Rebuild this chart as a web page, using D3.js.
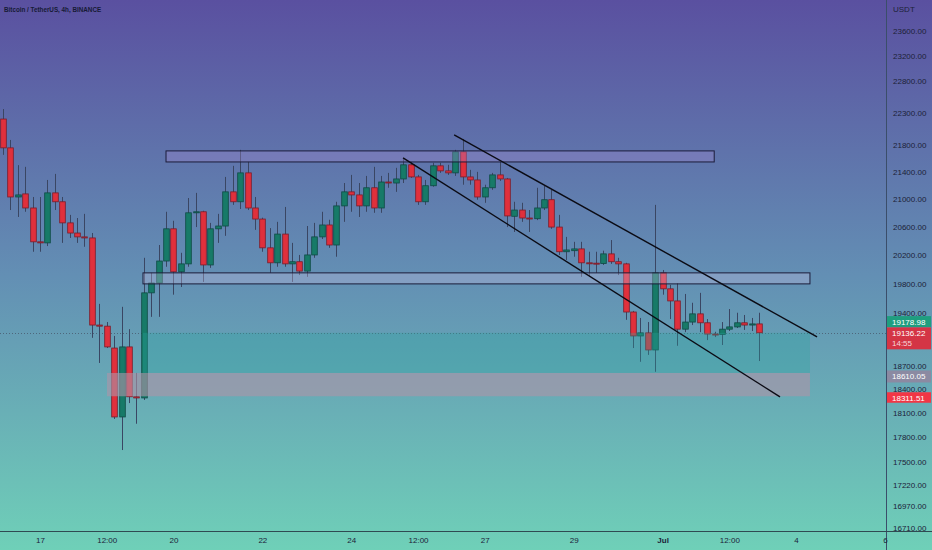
<!DOCTYPE html>
<html><head><meta charset="utf-8">
<script src="https://cdn.jsdelivr.net/npm/d3@7/dist/d3.min.js"></script>
<style>body{margin:0;overflow:hidden;background:#5f70a8}svg{display:block}</style>
</head><body><svg id="c" width="932" height="550"></svg>
<script>
// ---- data (4h candles, first candle 2022-06-16 04:00 UTC) ----
const firstCandle = "2022-06-16T04:00:00Z";
const stepHours = 4;
const open = [
22200,21760,21030,21075,20870,20385,20370,21090,20960,20655,
20510,20455,20440,19240,19225,18935,18050,18950,18305,18290,
19675,19810,20115,20570,19965,20075,20800,20815,20060,20570,
20610,21105,20960,21385,20870,20710,20300,20090,20495,20075,
20105,19975,20200,20455,20625,20340,20900,21105,21060,20900,
21165,20870,21250,21235,21295,21505,21325,20960,21195,21490,
21415,21385,21700,21325,21280,21030,21165,21355,21295,20750,
20840,20725,20715,20870,20990,20595,20245,20260,20285,20090,
20085,20080,20215,20105,20075,19415,19095,19135,18910,19950,
19730,19565,19185,19280,19390,19270,19120,19115,19185,19215,
19270,19240,19255];
const high = [
22355,21880,21500,21475,21030,21030,21280,21370,21030,20770,
20725,20785,20510,19525,19280,19095,19485,19185,18610,20160,
19950,20340,20815,20685,20230,21015,21090,20830,20655,20785,
21325,21490,21730,21550,21030,20730,20580,20670,20885,20370,
20200,20610,20655,20815,20700,20960,21235,21355,21235,21340,
21475,21340,21385,21460,21595,21550,21355,21280,21535,21535,
21505,21730,21895,21430,21400,21210,21385,21550,21310,20960,
20945,20840,21165,21195,21135,20770,20455,20385,20385,20245,
20245,20260,20410,20160,20090,19430,19335,19280,20915,19990,
19785,19810,19660,19540,19675,19320,19150,19280,19455,19405,
19375,19335,19405];
const low = [
21655,20840,20740,20815,20245,20245,20325,20840,20370,20440,
20370,20315,19070,18740,18935,18025,17640,18225,17965,18265,
19350,19350,20035,19650,19755,20035,20595,19825,20020,20370,
20470,20915,20855,20840,20555,20245,19950,20035,20035,19825,
19920,19895,20160,20425,20300,20175,20670,20815,20740,20815,
20800,20800,21165,21105,21235,21310,20915,20915,21180,21385,
21355,21340,21210,21210,20990,20945,21135,21265,20595,20525,
20670,20525,20695,20840,20570,20200,20130,20175,19895,19895,
19950,20060,20075,19920,19310,18935,18755,18845,18625,19650,
19320,18965,19145,19240,19145,19040,19080,18975,19160,19200,
19175,19160,18765];
const close = [
21760,21030,21060,20870,20385,20370,21090,20960,20655,20510,
20455,20440,19240,19225,18950,18050,18950,18305,18290,19675,
19810,20115,20570,19965,20075,20800,20815,20060,20570,20610,
21105,20960,21385,20870,20710,20300,20090,20495,20075,20105,
19975,20200,20455,20625,20340,20900,21105,21060,20900,21165,
20870,21250,21235,21295,21505,21325,20960,21195,21490,21415,
21385,21700,21325,21280,21030,21165,21355,21295,20755,20840,
20725,20715,20870,20990,20595,20245,20270,20285,20090,20085,
20080,20215,20105,20075,19415,19095,19135,18910,19950,19730,
19565,19185,19280,19390,19270,19120,19115,19185,19215,19270,
19240,19255,19136.22];

// price axis ticks
const priceTicks = [23600,23200,22800,22300,21800,21400,21000,20600,20200,19800,19400,18700,18400,18100,17800,17500,17220,16970,16710];
// time axis ticks
const timeTickDates = ["2022-06-17T00:00:00Z","2022-06-18T12:00:00Z","2022-06-20T00:00:00Z","2022-06-22T00:00:00Z","2022-06-24T00:00:00Z","2022-06-25T12:00:00Z","2022-06-27T00:00:00Z","2022-06-29T00:00:00Z","2022-07-01T00:00:00Z","2022-07-02T12:00:00Z","2022-07-04T00:00:00Z","2022-07-06T00:00:00Z"];
const timeTickLabels = ["17","12:00","20","22","24","12:00","27","29","Jul","12:00","4","6"];

// drawings
const zoneTop = {t0:"2022-06-19T20:00:00Z", t1:"2022-07-02T03:50:00Z", p0:21714, p1:21548};
const zoneMid = {t0:"2022-06-19T07:35:00Z", t1:"2022-07-04T07:30:00Z", p0:19950, p1:19798};
const zoneTeal = {t0:"2022-06-19T07:35:00Z", t1:"2022-07-04T07:30:00Z", p0:19136.22, p1:18610.05};
const zoneGrey = {t0:"2022-06-18T12:10:00Z", t1:"2022-07-04T07:30:00Z", p0:18610.05, p1:18311.51};
const upperLine = [{t:"2022-06-26T07:30:00Z", p:21957},{t:"2022-07-04T11:20:00Z", p:19082}];
const lowerLine = [{t:"2022-06-25T03:55:00Z", p:21608},{t:"2022-07-03T15:20:00Z", p:18303}];

// price labels on axis
const lastPrice = 19136.22, bidPrice = 19178.98, countdown = "14:55";
const levelA = 18610.05, levelB = 18311.51;

// ---- drawing ----
const W = 932, H = 550, plotR = 886, plotB = 531;
const svg = d3.select("#c");
const defs = svg.append("defs");
const grad = defs.append("linearGradient").attr("id","bg").attr("x1",0).attr("y1",0).attr("x2",0).attr("y2",1);
grad.append("stop").attr("offset","0%").attr("stop-color","#5a50a0");
grad.append("stop").attr("offset","50%").attr("stop-color","#638fb4");
grad.append("stop").attr("offset","100%").attr("stop-color","#6fd0b8");
svg.append("rect").attr("width",W).attr("height",H).attr("fill","url(#bg)");

const x = d3.scaleUtc().domain([new Date("2022-06-17T00:00:00Z"), new Date("2022-07-06T00:00:00Z")]).range([40, 885]);
const y = d3.scaleLog().domain([16710, 23600]).range([528, 31]);

const t0 = new Date(firstCandle).getTime();
const candles = open.map((o,i)=>({t:new Date(t0 + i*stepHours*3600e3), o, h:high[i], l:low[i], c:close[i]}));

const plot = svg.append("g");
plot.append("clipPath").attr("id","clip").append("rect").attr("width",plotR).attr("height",plotB);
const pg = plot.append("g").attr("clip-path","url(#clip)");

// current price dotted line
pg.append("line").attr("x1",0).attr("x2",plotR).attr("y1",Math.round(y(lastPrice))+0.5).attr("y2",Math.round(y(lastPrice))+0.5)
  .attr("stroke","#46566a").attr("stroke-width",1).attr("stroke-dasharray","1,2").attr("opacity",0.75);

// candles
const bw = 5.6;
const cg = pg.append("g");
cg.selectAll("line.w").data(candles).join("line").attr("class","w")
  .attr("x1",d=>Math.round(x(d.t))+0.5).attr("x2",d=>Math.round(x(d.t))+0.5)
  .attr("y1",d=>y(d.h)).attr("y2",d=>y(d.l)).attr("stroke","#3a4663").attr("stroke-width",1);
cg.selectAll("rect.b").data(candles).join("rect").attr("class","b")
  .attr("x",d=>Math.round(x(d.t))+0.5-bw/2)
  .attr("y",d=>y(Math.max(d.o,d.c)))
  .attr("width",bw)
  .attr("height",d=>Math.max(1,Math.abs(y(d.o)-y(d.c))))
  .attr("fill",d=>d.c>=d.o?"#177a68":"#e0303c")
  .attr("stroke",d=>d.c>=d.o?"#0e4a44":"#7a1c2a").attr("stroke-width",0.8);

// zones
function zone(z, fill, stroke){
  const r = pg.append("rect")
    .attr("x",x(new Date(z.t0))).attr("width",x(new Date(z.t1))-x(new Date(z.t0)))
    .attr("y",y(z.p0)).attr("height",y(z.p1)-y(z.p0)).attr("fill",fill);
  if(stroke) r.attr("stroke",stroke).attr("stroke-width",1);
}
zone(zoneTeal, "rgba(40,165,160,0.32)");
zone(zoneGrey, "rgba(172,148,168,0.62)");
zone(zoneTop, "rgba(168,140,212,0.32)", "#1b1c3a");
zone(zoneMid, "rgba(200,190,228,0.33)", "#1b1c3a");

// trend lines
const lg = d3.line().x(d=>x(new Date(d.t))).y(d=>y(d.p));
[upperLine, lowerLine].forEach(l=>pg.append("path").attr("d",lg(l)).attr("fill","none").attr("stroke","#0b0b14").attr("stroke-width",1.4));

// axes lines
svg.append("line").attr("x1",plotR+0.5).attr("x2",plotR+0.5).attr("y1",0).attr("y2",H).attr("stroke","#3b4e6a").attr("stroke-width",1);
svg.append("line").attr("x1",0).attr("x2",W).attr("y1",plotB+0.5).attr("y2",plotB+0.5).attr("stroke","#2f4a52").attr("stroke-width",1);

// price axis
const ya = svg.append("g").attr("transform",`translate(${plotR+2},0)`)
  .call(d3.axisRight(y).tickValues(priceTicks).tickFormat(d3.format(".2f")).tickSize(0).tickPadding(5));
ya.select(".domain").remove();
ya.selectAll("text").attr("font-family","Liberation Sans, Arial, sans-serif").attr("font-size","8px").attr("fill","#1c2238");

// time axis
const xa = svg.append("g").attr("transform",`translate(0,${plotB})`)
  .call(d3.axisBottom(x).tickValues(timeTickDates.map(d=>new Date(d))).tickFormat((d,i)=>timeTickLabels[i]).tickSize(0).tickPadding(6));
xa.select(".domain").remove();
xa.selectAll("text").attr("font-family","Liberation Sans, Arial, sans-serif").attr("font-size","8px").attr("fill","#1c2238")
  .attr("font-weight",(d,i)=>timeTickLabels[i]==="Jul"?"bold":"normal");

// header texts
svg.append("text").attr("x",4).attr("y",12).text("Bitcoin / TetherUS, 4h, BINANCE")
  .attr("font-family","Liberation Sans, Arial, sans-serif").attr("font-size","6.3px").attr("font-weight","bold").attr("fill","#161a35");
svg.append("text").attr("x",plotR+7).attr("y",12).text("USDT")
  .attr("font-family","Liberation Sans, Arial, sans-serif").attr("font-size","8px").attr("fill","#1c2238");

// price tags
function tag(price, dy, h, fill, lines){
  const cy = y(price) + dy;
  const g = svg.append("g");
  g.append("rect").attr("x",plotR+1).attr("y",cy-5.5).attr("width",W-plotR-2).attr("height",h).attr("fill",fill);
  lines.forEach((s,k)=>g.append("text").attr("x",plotR+6).attr("y",cy+3+k*10).text(s)
    .attr("font-family","Liberation Sans, Arial, sans-serif").attr("font-size","8px").attr("fill",k?"#f6d6da":"#ffffff"));
}
tag(bidPrice, -8, 11, "#1f9e7f", [d3.format(".2f")(bidPrice)]);
tag(lastPrice, 0, 22, "#d43545", [d3.format(".2f")(lastPrice), countdown]);
tag(levelA, 3, 12, "#8b8aa2", [d3.format(".2f")(levelA)]);
tag(levelB, 1.5, 10.5, "#f23645", [d3.format(".2f")(levelB)]);
</script></body></html>
